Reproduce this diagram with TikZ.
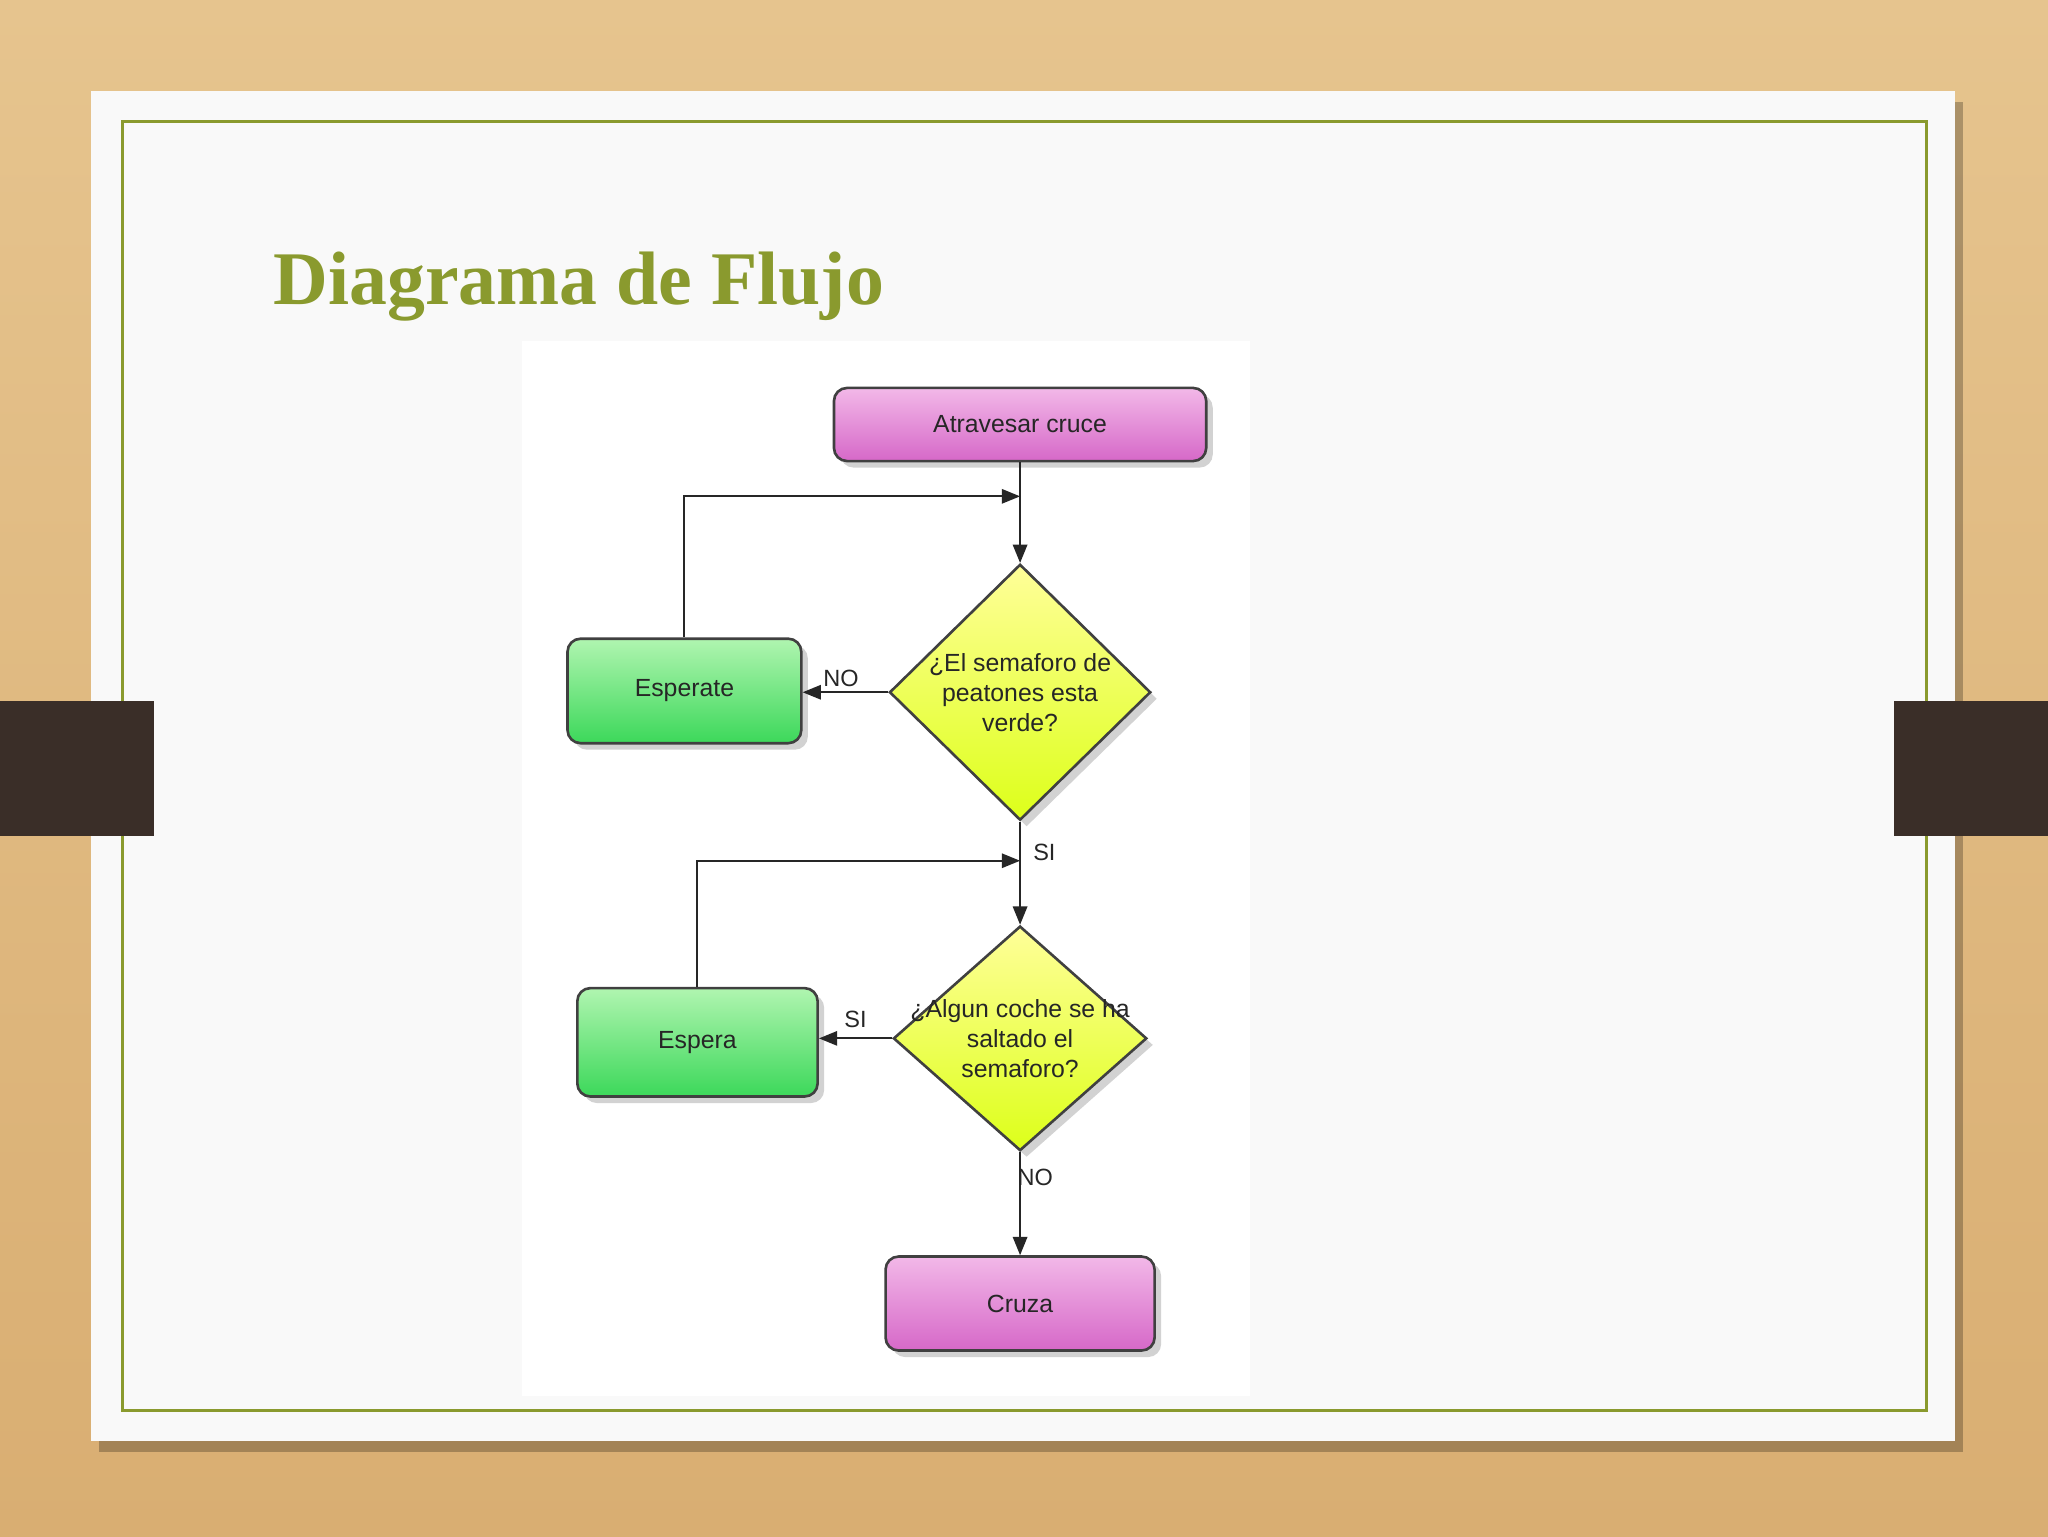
\documentclass[tikz,border=0pt]{standalone}
\usepackage{fontspec}
\setmainfont{Liberation Serif}
\newfontfamily\fsans{Liberation Sans}
\usetikzlibrary{shapes.geometric,shadows,arrows.meta}
\definecolor{wood}{HTML}{E6C48E}
\definecolor{woodd}{HTML}{D9AE72}
\definecolor{olive}{HTML}{8A9A2E}
\definecolor{tab}{HTML}{3A2E28}
\definecolor{pinkt}{HTML}{F2B8E8}
\definecolor{pinkb}{HTML}{D668C8}
\definecolor{greent}{HTML}{B0F5B0}
\definecolor{greenb}{HTML}{3CD85A}
\tikzset{
  box/.style={draw=black!75, line width=2pt, rounded corners=10pt, inner sep=0pt,
    drop shadow={shadow xshift=5pt, shadow yshift=-5pt, opacity=0.35}},
  pinkbox/.style={box, top color=pinkt, bottom color=pinkb},
  greenbox/.style={box, top color=greent, bottom color=greenb},
  dia/.style={diamond, draw=black!75, line width=2pt, inner sep=0pt,
    top color=yellow!40, bottom color=yellow!85!green!90,
    drop shadow={shadow xshift=5pt, shadow yshift=-5pt, opacity=0.35}},
  txt/.style={font=\fsans\fontsize{19}{23}\selectfont, align=center, text=black!85},
  arr/.style={-{Triangle[length=14pt,width=11pt]}, line width=1.5pt, black!85},
  lbl/.style={font=\fsans\fontsize{18}{22}\selectfont, text=black!85}
}
\begin{document}
\begin{tikzpicture}[x=1pt,y=-1pt]
\useasboundingbox (0,0) rectangle (1568,1176);
\shade[top color=wood, bottom color=woodd] (0,0) rectangle (1568,1176);
\fill[black, opacity=0.25] (76,78) rectangle (1503,1112);
\fill[white!95!gray] (70,70) rectangle (1497,1103);
\draw[olive, line width=2pt] (94,93) rectangle (1475,1080);
\fill[tab] (0,537) rectangle (118,640);
\fill[tab] (1450,537) rectangle (1568,640);
\node[anchor=base west, text=olive, font=\bfseries\fontsize{58}{64}\selectfont] (title) at (206,233) {Diagrama de Flujo};
\fill[white] (400,261) rectangle (957,1069);

\node[pinkbox, minimum width=285pt, minimum height=56pt] (atr) at (781,325) {};
\node[txt] at (atr) {Atravesar cruce};
\node[dia, minimum width=200pt, minimum height=196pt] (d1) at (781,530) {};
\node[txt] at (d1) {¿El semaforo de\\peatones esta\\verde?};
\node[greenbox, minimum width=179pt, minimum height=80pt] (esp1) at (524,529) {};
\node[txt] at (esp1) {Esperate};
\node[dia, minimum width=194pt, minimum height=172pt] (d2) at (781,795) {};
\node[txt] at (d2) {¿Algun coche se ha\\saltado el\\semaforo?};
\node[greenbox, minimum width=184pt, minimum height=83pt] (esp2) at (534,798) {};
\node[txt] at (esp2) {Espera};
\node[pinkbox, minimum width=206pt, minimum height=72pt] (cruza) at (781,998) {};
\node[txt] at (cruza) {Cruza};

\coordinate (j1) at (781,380);
\coordinate (j2) at (781,659);
\draw[arr] (atr.south) -- (d1.north);
\draw[arr] (esp1.north) |- (j1);
\draw[arr] (d1.west) -- (d1.west -| esp1.east) node[lbl, pos=0.55, above] {NO};
\draw[arr] (d1.south) -- (d2.north) node[lbl, pos=0.3, right=6pt] {SI};
\draw[arr] (esp2.north) |- (j2);
\draw[arr] (d2.west) -- (d2.west -| esp2.east) node[lbl, pos=0.5, above=4pt] {SI};
\draw[arr] (d2.south) -- (cruza.north) node[lbl, pos=0.25, right=-6pt] {NO};
\end{tikzpicture}
\end{document}
